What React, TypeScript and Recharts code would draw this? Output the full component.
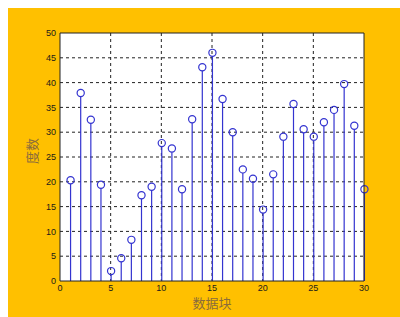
import {
  Bar,
  CartesianGrid,
  ComposedChart,
  XAxis,
  YAxis,
} from "recharts";

// block index along the x axis
const blocks = [
  1, 2, 3, 4, 5, 6, 7, 8, 9, 10, 11, 12, 13, 14, 15, 16, 17, 18, 19, 20, 21,
  22, 23, 24, 25, 26, 27, 28, 29, 30,
];
// degree value per block
const degrees = [
  20.3, 37.9, 32.5, 19.4, 2.0, 4.6, 8.3, 17.3, 19.0, 27.8, 26.7, 18.5, 32.6,
  43.1, 46.0, 36.7, 30.0, 22.5, 20.6, 14.4, 21.5, 29.1, 35.7, 30.6, 29.1, 32.0,
  34.5, 39.7, 31.3, 18.5,
];
const xTicks = [0, 5, 10, 15, 20, 25, 30];
const yTicks = [0, 5, 10, 15, 20, 25, 30, 35, 40, 45, 50];

const STEM = "#3434d0";
const LABEL = "#8a6c3c";

const data = blocks.map((b, i) => ({ block: b, degree: degrees[i] }));

// stem: vertical line down to the baseline with a hollow circle on top
function Stem(props: any) {
  const { x, y, width, height } = props;
  const cx = x + width / 2;
  return (
    <g>
      <line x1={cx} y1={y + 3.6} x2={cx} y2={y + height} stroke={STEM} strokeWidth={1.2} />
      <circle cx={cx} cy={y} r={3.6} fill="none" stroke={STEM} strokeWidth={1.2} />
    </g>
  );
}

export default function App() {
  return (
    <div
      style={{
        position: "fixed",
        left: 8,
        top: 8,
        width: 392,
        height: 309,
        background: "#ffc000",
      }}
    >
      <ComposedChart
        width={392}
        height={309}
        data={data}
        margin={{ top: 24, right: 35, bottom: 0, left: 0 }}
      >
        <CartesianGrid
          stroke="#222"
          strokeDasharray="3 3"
          horizontalValues={yTicks.slice(1, -1)}
          verticalValues={xTicks.slice(1, -1)}
          fill="#ffffff"
          fillOpacity={1}
        />
        <XAxis
          dataKey="block"
          type="number"
          domain={[0, 30]}
          ticks={xTicks}
          height={36}
          tickSize={3}
          tickMargin={1}
          tickLine={false}
          axisLine={{ stroke: "#222" }}
          tick={{ fontSize: 9, fill: "#1a1a1a", fontFamily: "Arial, Liberation Sans" }}
          label={{
            value: "数据块",
            position: "insideBottom",
            offset: 9,
            fontSize: 13,
            fill: LABEL,
            fontFamily: "Noto Sans CJK SC",
          }}
        />
        <XAxis
          xAxisId="top"
          orientation="top"
          dataKey="block"
          type="number"
          domain={[0, 30]}
          height={1}
          tick={false}
          tickLine={false}
          axisLine={{ stroke: "#222" }}
        />
        <YAxis
          type="number"
          domain={[0, 50]}
          ticks={yTicks}
          width={52}
          tickSize={3}
          tickMargin={1}
          tickLine={false}
          axisLine={{ stroke: "#222" }}
          tick={{ fontSize: 9, fill: "#1a1a1a", fontFamily: "Arial, Liberation Sans" }}
          label={{
            value: "度数",
            angle: -90,
            position: "center",
            dx: -2,
            dy: -6,
            fontSize: 13,
            fill: LABEL,
            fontFamily: "Noto Sans CJK SC",
          }}
        />
        <YAxis
          yAxisId="right"
          orientation="right"
          type="number"
          domain={[0, 50]}
          width={1}
          tick={false}
          tickLine={false}
          axisLine={{ stroke: "#222" }}
        />
        <Bar
          dataKey="degree"
          barSize={1}
          shape={<Stem />}
          isAnimationActive={false}
        />
      </ComposedChart>
    </div>
  );
}
